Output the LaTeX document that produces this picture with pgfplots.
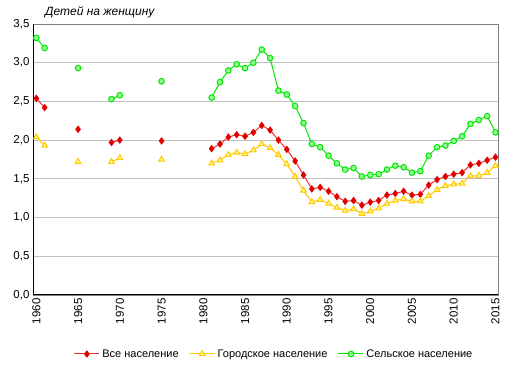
\documentclass[border=0pt]{standalone}
\usepackage{pgfplots}
\pgfplotsset{compat=1.18}
\usepackage{fontspec}
\setmainfont{Liberation Sans}
\definecolor{totline}{RGB}{240,50,50}
\definecolor{totmark}{RGB}{225,0,0}
\definecolor{urbline}{RGB}{255,200,0}
\definecolor{urbfill}{RGB}{255,255,140}
\definecolor{rurline}{RGB}{0,230,0}
\definecolor{rurfill}{RGB}{150,255,150}
\definecolor{gridc}{RGB}{192,192,192}
\begin{document}
\begin{tikzpicture}
\begin{axis}[
  scale only axis,
  width=465pt, height=271pt,
  xmin=1959.6, xmax=2015.3,
  ymin=0, ymax=3.5,
  unbounded coords=jump,
  xtick={1960,1965,...,2015},
  ytick={0,0.5,...,3.5},
  major tick length=0pt,
  ymajorgrids,
  grid style={gridc, line width=0.8pt},
  axis line style={draw=gray, line width=0.8pt},
  /pgf/number format/assume math mode=true,
  xticklabel style={rotate=90, anchor=east, font=\fontsize{11.5}{14}\selectfont, /pgf/number format/1000 sep={}},
  yticklabel style={font=\fontsize{11.5}{14}\selectfont, /pgf/number format/.cd, use comma, fixed, fixed zerofill, precision=1},
  legend style={at={(rel axis cs:0.518,0)}, anchor=center, yshift=-59pt, draw=none, legend columns=3, font=\fontsize{11}{14}\selectfont,
    nodes={inner sep=1.5pt},
    /tikz/every odd column/.append style={column sep=1pt},
    /tikz/every even column/.append style={column sep=9pt}},
  legend image code/.code={\draw[#1] (0pt,0pt) -- (12.5pt,0pt) plot coordinates {(12.5pt,0pt)} -- (25pt,0pt);},
  clip=false,
]
\addplot[color=totline, line width=1pt, mark=diamond*, mark size=3pt, mark options={fill=totmark, draw=totmark}] coordinates {
(1960,2.54)(1961,2.42)(1962,nan)(1965,2.14)(1966,nan)(1969,1.97)(1970,2.00)(1971,nan)(1975,1.99)(1976,nan)
(1981,1.89)(1982,1.95)(1983,2.04)(1984,2.07)(1985,2.05)(1986,2.10)(1987,2.19)(1988,2.13)(1989,2.00)(1990,1.88)
(1991,1.73)(1992,1.55)(1993,1.37)(1994,1.39)(1995,1.34)(1996,1.27)(1997,1.21)(1998,1.22)(1999,1.16)(2000,1.20)
(2001,1.22)(2002,1.29)(2003,1.31)(2004,1.34)(2005,1.29)(2006,1.30)(2007,1.42)(2008,1.49)(2009,1.53)(2010,1.56)
(2011,1.58)(2012,1.68)(2013,1.70)(2014,1.74)(2015,1.78)};
\addlegendentry{Все население}
\addplot[color=urbline, line width=1pt, mark=triangle*, mark size=3.2pt, mark options={fill=urbfill, draw=urbline}] coordinates {
(1960,2.04)(1961,1.93)(1962,nan)(1965,1.72)(1966,nan)(1969,1.72)(1970,1.77)(1971,nan)(1975,1.75)(1976,nan)
(1981,1.70)(1982,1.74)(1983,1.81)(1984,1.84)(1985,1.82)(1986,1.87)(1987,1.95)(1988,1.90)(1989,1.81)(1990,1.69)
(1991,1.53)(1992,1.35)(1993,1.20)(1994,1.23)(1995,1.18)(1996,1.13)(1997,1.09)(1998,1.11)(1999,1.05)(2000,1.08)
(2001,1.12)(2002,1.18)(2003,1.22)(2004,1.24)(2005,1.21)(2006,1.21)(2007,1.28)(2008,1.36)(2009,1.41)(2010,1.43)
(2011,1.44)(2012,1.54)(2013,1.54)(2014,1.58)(2015,1.67)};
\addlegendentry{Городское население}
\addplot[color=rurline, line width=1pt, mark=*, mark size=2.8pt, mark options={fill=rurfill, draw=rurline}] coordinates {
(1960,3.32)(1961,3.19)(1962,nan)(1965,2.93)(1966,nan)(1969,2.53)(1970,2.58)(1971,nan)(1975,2.76)(1976,nan)
(1981,2.55)(1982,2.75)(1983,2.90)(1984,2.98)(1985,2.93)(1986,3.00)(1987,3.17)(1988,3.06)(1989,2.64)(1990,2.59)
(1991,2.44)(1992,2.22)(1993,1.95)(1994,1.91)(1995,1.80)(1996,1.70)(1997,1.62)(1998,1.64)(1999,1.53)(2000,1.55)
(2001,1.56)(2002,1.62)(2003,1.67)(2004,1.65)(2005,1.58)(2006,1.60)(2007,1.80)(2008,1.91)(2009,1.93)(2010,1.99)
(2011,2.05)(2012,2.21)(2013,2.26)(2014,2.31)(2015,2.10)};
\addlegendentry{Сельское население}
\draw[black, line width=1pt] (rel axis cs:0,1) -- (rel axis cs:0,0) -- (rel axis cs:1,0);
\node[anchor=south west, font=\itshape\fontsize{12}{14}\selectfont, inner sep=0pt] at ([xshift=12pt,yshift=6pt]rel axis cs:0,1) {Детей на женщину};
\end{axis}
\path (current axis.south west) ++(-33pt,-76pt) rectangle ++(513pt,371pt);
\end{tikzpicture}
\end{document}
